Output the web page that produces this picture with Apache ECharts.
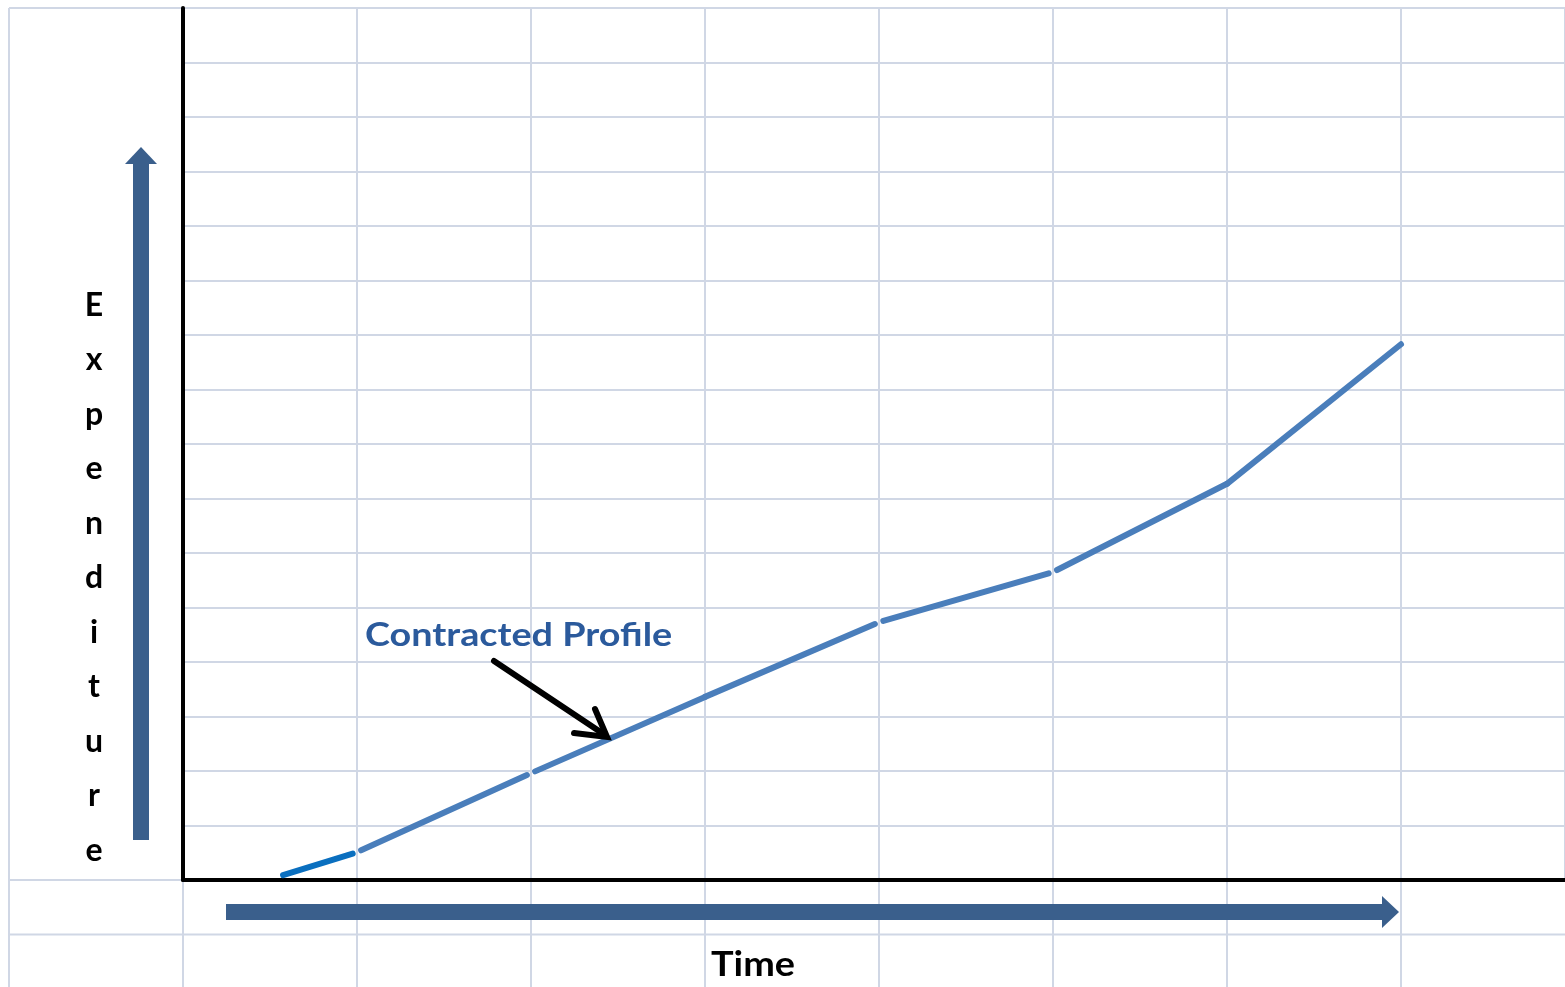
<!DOCTYPE html>
<html>
<head>
<meta charset="utf-8">
<script src="https://cdn.jsdelivr.net/npm/echarts@6/dist/echarts.min.js"></script>
<style>
html,body{margin:0;padding:0;background:#fff;}
#chart{width:1565px;height:987px;}
</style>
</head>
<body>
<div id="chart"></div>
<script>
// ---- data ----
var timeVals = [0.575, 1, 2, 3, 4, 5, 6, 7];
var expVals = [0.09, 0.51, 1.96, 3.36, 4.73, 5.65, 7.27, 9.83];
var yAxisLetters = ['E', 'x', 'p', 'e', 'n', 'd', 'i', 't', 'u', 'r', 'e'];
var xAxisTitle = 'Time';
var annotationText = 'Contracted Profile';

// ---- layout / style ----
var W = 1565, H = 987;
var CELL_W = 174, CELL_H = 54.5;
var GRID_LEFT = 183, AXIS_Y = 880, TOP = 8, SHEET_LEFT = 9;
var GRID_COLOR = '#d0d7e5';
var ARROW_COLOR = '#3a5f8c';
var gapAt = [false, true, true, false, true, true, false, false];

var chart = echarts.init(document.getElementById('chart'), null, {renderer: 'canvas'});

var graphics = [];
function gline(x1, y1, x2, y2) {
  graphics.push({type: 'line', silent: true, z: 0,
    shape: {x1: x1, y1: y1, x2: x2, y2: y2},
    style: {stroke: GRID_COLOR, lineWidth: 2}});
}
// spreadsheet cell lines outside the plot area
gline(SHEET_LEFT, TOP, SHEET_LEFT, H);
gline(SHEET_LEFT, TOP, GRID_LEFT, TOP);
gline(SHEET_LEFT, AXIS_Y, W, AXIS_Y);
gline(SHEET_LEFT, AXIS_Y + CELL_H, W, AXIS_Y + CELL_H);
for (var k = 0; GRID_LEFT + k * CELL_W < W; k++) {
  gline(GRID_LEFT + k * CELL_W, AXIS_Y, GRID_LEFT + k * CELL_W, H);
}
// big vertical arrow
graphics.push({type: 'rect', z: 5, shape: {x: 133, y: 160, width: 16, height: 680}, style: {fill: ARROW_COLOR}});
graphics.push({type: 'polygon', z: 5, shape: {points: [[125, 164], [157, 164], [141, 147]]}, style: {fill: ARROW_COLOR}});
// big horizontal arrow
graphics.push({type: 'rect', z: 5, shape: {x: 226, y: 904, width: 1158, height: 16}, style: {fill: ARROW_COLOR}});
graphics.push({type: 'polygon', z: 5, shape: {points: [[1382, 896], [1382, 928], [1399, 912]]}, style: {fill: ARROW_COLOR}});
// vertical axis title (one letter per row)
graphics.push({type: 'text', z: 6, x: 94, y: 278,
  style: {text: yAxisLetters.join('\n'), fill: '#000', font: 'bold 32px Lato', align: 'center', verticalAlign: 'top', lineHeight: 54.5}});
// horizontal axis title
graphics.push({type: 'text', z: 6, x: 753, y: 965, scaleX: 1.08,
  style: {text: xAxisTitle, fill: '#000', font: 'bold 35px Lato', align: 'center', verticalAlign: 'middle'}});
// annotation
graphics.push({type: 'text', z: 6, x: 365, y: 636, scaleX: 1.18,
  style: {text: annotationText, fill: '#2b5a9c', font: 'bold 32px Lato', align: 'left', verticalAlign: 'middle'}});
graphics.push({type: 'polyline', z: 6, shape: {points: [[494, 661], [605, 735]]},
  style: {stroke: '#000', lineWidth: 6, lineCap: 'round', fill: null}});
graphics.push({type: 'polyline', z: 6, shape: {points: [[574, 733], [607, 737], [595, 709]]},
  style: {stroke: '#000', lineWidth: 6, lineCap: 'round', lineJoin: 'miter', fill: null}});

var option = {
  backgroundColor: '#fff',
  animation: false,
  grid: {left: GRID_LEFT, right: 0, top: TOP, bottom: H - AXIS_Y, containLabel: false},
  xAxis: {
    type: 'value', min: 0, max: (W - GRID_LEFT) / CELL_W, interval: 1,
    axisLine: {show: true, onZero: false, lineStyle: {color: '#000', width: 4}},
    axisTick: {show: false}, axisLabel: {show: false},
    splitLine: {show: true, lineStyle: {color: GRID_COLOR, width: 2}}
  },
  yAxis: {
    type: 'value', min: 0, max: 16, interval: 1,
    axisLine: {show: true, onZero: false, lineStyle: {color: '#000', width: 4}},
    axisTick: {show: false}, axisLabel: {show: false},
    splitLine: {show: true, lineStyle: {color: GRID_COLOR, width: 2}}
  },
  series: [{
    type: 'custom',
    name: 'Contracted Profile',
    data: timeVals.map(function (t, i) { return [t, expVals[i]]; }),
    encode: {x: 0, y: 1},
    clip: false,
    renderItem: function (params, api) {
      var i = params.dataIndex;
      if (i >= timeVals.length - 1) return null;
      var p0 = api.coord([api.value(0), api.value(1)]);
      var p1 = api.coord([timeVals[i + 1], expVals[i + 1]]);
      var dx = p1[0] - p0[0], dy = p1[1] - p0[1];
      var len = Math.sqrt(dx * dx + dy * dy);
      var ux = dx / len, uy = dy / len;
      var s = gapAt[i] ? 4.5 : 0, e = gapAt[i + 1] ? 4.5 : 0;
      return {
        type: 'line',
        shape: {x1: p0[0] + ux * s, y1: p0[1] + uy * s, x2: p1[0] - ux * e, y2: p1[1] - uy * e},
        style: {stroke: i === 0 ? '#0a6fbf' : '#4a7ebb', lineWidth: 6, lineCap: 'round'}
      };
    }
  }],
  graphic: graphics
};
chart.setOption(option);
</script>
</body>
</html>
